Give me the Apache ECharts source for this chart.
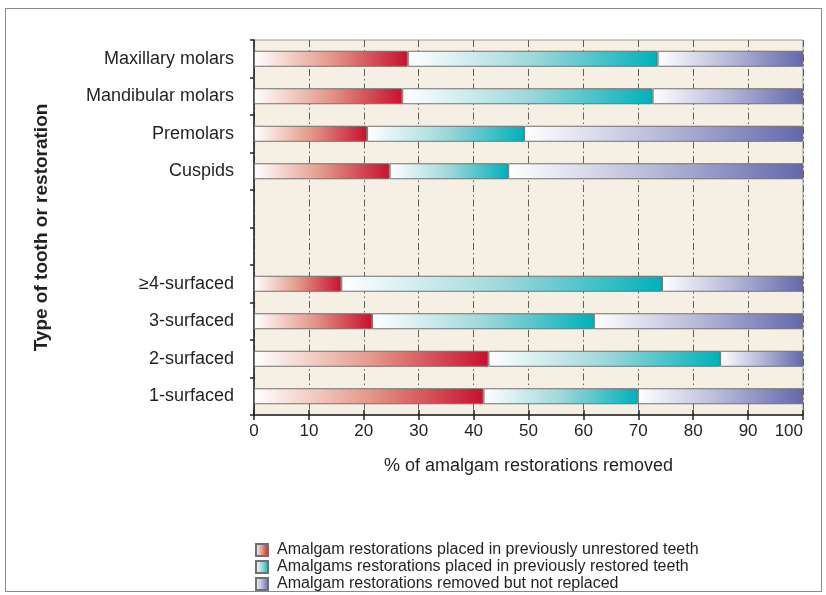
<!DOCTYPE html>
<html>
<head>
<meta charset="utf-8">
<script src="https://cdn.jsdelivr.net/npm/echarts@6/dist/echarts.min.js"></script>
<style>
  html, body { margin: 0; padding: 0; background: #fff; }
  #frame { position: absolute; left: 5px; top: 8px; width: 815px; height: 582px; border: 1px solid #8a8a8a; }
  #chart { position: absolute; left: 0; top: 0; width: 826px; height: 595px; }
</style>
</head>
<body>
<div id="frame"></div>
<div id="chart"></div>
<script>
  var categories = ['Maxillary molars', 'Mandibular molars', 'Premolars', 'Cuspids', '', ' ',
    '\u22654-surfaced', '3-surfaced', '2-surfaced', '1-surfaced']
  var unrestored = [28, 27, 20.6, 24.7, null, null, 15.9, 21.5, 42.7, 41.8]
  var restored = [45.5, 45.6, 28.6, 21.6, null, null, 58.4, 40.4, 42.2, 28.1]
  var notReplaced = [26.5, 27.4, 50.8, 53.7, null, null, 25.7, 38.1, 15.1, 30.1]
  var seriesNames = [
    'Amalgam restorations placed in previously unrestored teeth',
    'Amalgams restorations placed in previously restored teeth',
    'Amalgam restorations removed but not replaced'
  ]
  var xTicks = [0, 10, 20, 30, 40, 50, 60, 70, 80, 90, 100]

  var font = 'Liberation Sans'
  var ink = '#231f20'

  // white on the left, full colour on the right
  function fade(mid, c) {
    return new echarts.graphic.LinearGradient(0, 0, 1, 0, [
      {offset: 0, color: '#ffffff'},
      {offset: 0.5, color: mid},
      {offset: 1, color: c}
    ])
  }

  function bar(name, data, mid, c) {
    return {
      name: name,
      type: 'bar',
      stack: 'all',
      data: data,
      barWidth: 16,
      barCategoryGap: 0,
      xAxisIndex: 0,
      itemStyle: {color: fade(mid, c), borderColor: '#707070', borderWidth: 1},
      emphasis: {disabled: true}
    }
  }

  var chart = echarts.init(document.getElementById('chart'))
  chart.setOption({
    animation: false,
    textStyle: {fontFamily: font, color: ink},
    grid: {
      left: 254, right: 23, top: 40, bottom: 180,
      show: true,
      backgroundColor: '#f6f0e4',
      borderColor: '#9a9a9a',
      borderWidth: 1
    },
    legend: {
      orient: 'vertical',
      left: 250,
      top: 537,
      height: 80,
      itemWidth: 12,
      itemHeight: 12,
      itemGap: 1,
      icon: 'rect',
      textStyle: {fontSize: 16, lineHeight: 16, color: ink, fontFamily: font, padding: [0, 0, 0, 4]},
      data: seriesNames
    },
    xAxis: [
      {
        type: 'value',
        min: 0,
        max: 100,
        interval: 10,
        name: '% of amalgam restorations removed',
        nameLocation: 'middle',
        nameGap: 42,
        nameTextStyle: {fontSize: 18, color: ink},
        axisLine: {show: true, lineStyle: {color: '#222', width: 1.5}},
        axisTick: {show: true, length: 5, lineStyle: {color: '#222', width: 1.5}},
        axisLabel: {
          fontSize: 17, color: ink, margin: 8, alignMaxLabel: 'right',
          formatter: function (v) { return xTicks.indexOf(v) >= 0 ? String(v) : '' }
        },
        splitLine: {show: true, lineStyle: {color: '#5f5f5f', width: 1, type: [7, 3, 1.5, 3]}}
      },
      {
        type: 'value',
        position: 'bottom',
        min: 0,
        max: 100,
        interval: 10,
        axisLine: {show: false},
        axisTick: {show: true, inside: true, length: 5, lineStyle: {color: '#222', width: 1.5}},
        axisLabel: {show: false},
        splitLine: {show: false}
      }
    ],
    yAxis: {
      type: 'category',
      inverse: true,
      data: categories,
      name: 'Type of tooth or restoration',
      nameLocation: 'middle',
      nameGap: 203,
      nameRotate: 90,
      nameTextStyle: {fontSize: 19, fontWeight: 'bold', color: ink},
      axisLine: {show: true, lineStyle: {color: '#222', width: 1.5}},
      axisTick: {show: true, length: 4, lineStyle: {color: '#222', width: 1.5}},
      axisLabel: {fontSize: 18, color: ink, margin: 20},
      splitLine: {show: false}
    },
    series: [
      bar(seriesNames[0], unrestored, '#e4998a', '#c8102e'),
      bar(seriesNames[1], restored, '#9fd8db', '#00b1ba'),
      bar(seriesNames[2], notReplaced, '#b6b8d8', '#6268ac')
    ]
  })
</script>
</body>
</html>
